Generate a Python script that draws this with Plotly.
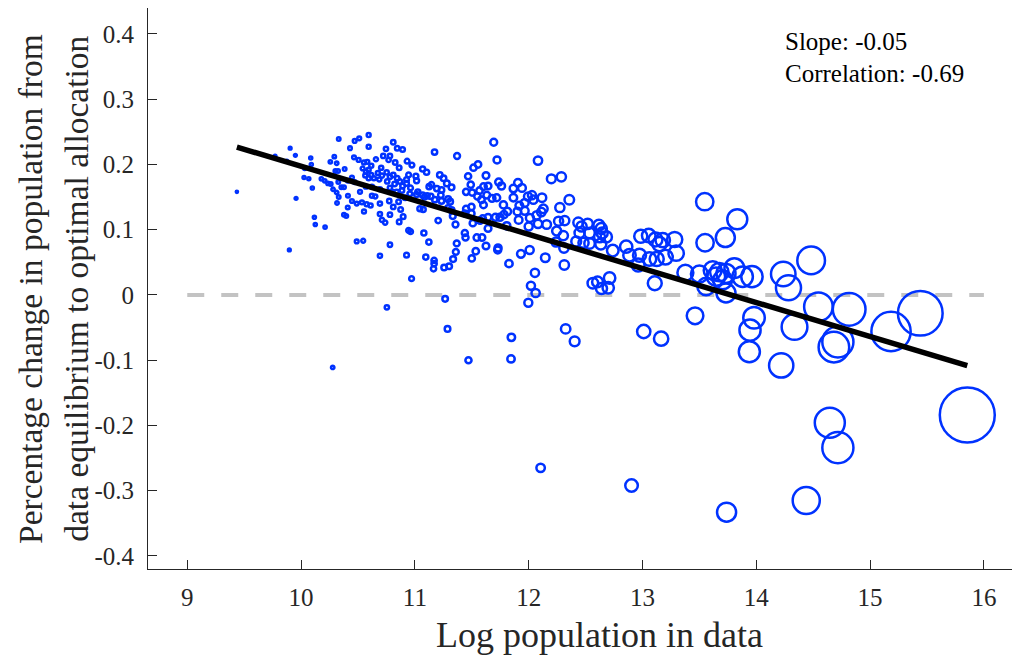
import numpy as np
import plotly.graph_objects as go

# ---------------- data ----------------
log_pop = [
    # x < 10.42
    9.436, 9.772, 9.875, 9.904, 9.950, 9.956, 9.897, 10.032, 10.026, 10.068,
    10.085, 10.090, 10.099, 10.117, 10.125, 10.211, 10.278, 10.178, 10.208, 10.237,
    10.261, 10.257, 10.292, 10.313, 10.331, 10.281, 10.301, 10.325, 10.327, 10.313,
    10.331, 10.316, 10.354, 10.377, 10.383, 10.412, 10.412, 10.410, 10.377, 10.397,
    # 10.42 - 10.7
    10.471, 10.511, 10.430, 10.594, 10.594, 10.465, 10.506, 10.553, 10.582, 10.658,
    10.617, 10.541, 10.570, 10.594, 10.617, 10.564, 10.594, 10.640, 10.675, 10.687,
    10.447, 10.471, 10.570, 10.623, 10.693, 10.518, 10.623, 10.652, 10.447, 10.489,
    10.535, 10.576, 10.611, 10.553, 10.693, 10.693, 10.711, 10.739, 10.489, 10.546,
    10.693,
    # 10.7 - 11.13
    10.746, 10.810, 10.845, 10.892, 10.722, 10.781, 10.769, 10.827, 10.862, 10.932,
    10.974, 10.704, 10.752, 10.711, 10.781, 10.810, 10.845, 10.757, 10.822, 10.868,
    10.892, 10.927, 10.945, 10.927, 10.962, 11.009, 11.015, 11.068, 11.103, 10.781,
    10.798, 10.839, 10.886, 10.915, 10.956, 11.015, 11.026, 11.068, 11.085, 11.108,
    11.125, 10.775, 10.810, 10.781, 10.857, 10.875, 10.897, 11.044, 11.073, 10.862,
    10.945, 10.962, 11.079, 10.781,
    # lower band 10.9 - 12.6
    10.927, 11.096, 11.169, 11.169, 11.164, 11.257, 11.301, 11.336, 11.360, 11.500,
    11.535, 11.728, 11.827, 11.932, 12.009, 12.146, 12.313, 12.055, 12.020, 12.061,
    11.997, 10.971, 11.266, 10.754, 11.287, 11.848, 11.845, 11.471, 12.325, 12.404,
    12.564, 12.605, 12.105,
    # 11.1 - 12.4
    11.693, 11.173, 11.371, 11.722, 12.082, 12.199, 12.287, 12.357, 11.219, 11.252,
    11.281, 11.322, 11.146, 11.193, 11.234, 11.140, 11.175, 11.228, 11.234, 11.292,
    11.310, 11.292, 11.322, 11.468, 11.515, 11.555, 11.625, 11.491, 11.450, 11.503,
    11.568, 11.603, 11.643, 11.550, 11.585, 11.632, 11.678, 11.719, 11.737, 11.761,
    11.603, 11.450, 11.439, 11.497, 11.497, 11.778, 11.813, 11.783, 11.748, 11.708,
    11.643, 11.596, 11.573, 11.866, 11.906, 11.941, 11.866, 11.901, 11.918, 11.965,
    11.994, 12.029, 12.041, 11.965, 12.011, 12.070, 12.111, 12.129, 12.117, 11.912,
    12.000, 12.082, 12.158, 11.807, 11.643, 11.509, 11.357, 11.333, 11.205, 11.439,
    11.445, 11.544, 11.590, 11.625, 11.731, 11.368, 11.123, 12.274, 12.263, 12.316,
    12.246, 12.304, 12.240, 12.310,
    # 12.4 - 13.3
    12.436, 12.465, 12.518, 12.447, 12.535, 12.617, 12.638, 12.646, 12.682, 12.623,
    12.418, 12.482, 12.535, 12.634, 12.739, 12.857, 12.886, 12.974, 12.962, 12.985,
    13.055, 13.114, 13.149, 13.178, 13.283, 13.296, 13.061, 13.125, 13.202, 12.711,
    12.699, 12.640, 13.108,
    # large cities
    13.547, 13.833, 13.728, 13.550, 13.377, 13.500, 13.617, 13.675, 13.734, 13.646,
    13.704, 13.807, 13.880, 13.962, 13.559, 13.734,
    14.482, 14.237, 14.283, 14.546, 14.816, 15.441, 15.184, 14.336, 14.717, 14.682,
    13.980, 13.945, 13.939, 14.219, 13.462, 13.011, 13.164, 15.854, 14.646, 14.717,
    12.904, 13.739, 14.439,
]

pct_change = [
    0.158, 0.213, 0.205, 0.225, 0.214, 0.148, 0.069, 0.194, 0.180, 0.178,
    0.210, 0.200, 0.164, 0.119, 0.108, 0.104, -0.111, 0.178, 0.175, 0.171,
    0.170, 0.204, 0.212, 0.202, 0.239, 0.162, 0.190, 0.190, 0.173, 0.157,
    0.150, 0.141, 0.165, 0.165, 0.193, 0.175, 0.152, 0.134, 0.123, 0.121,
    0.236, 0.240, 0.225, 0.245, 0.227, 0.211, 0.207, 0.203, 0.204, 0.208,
    0.198, 0.194, 0.189, 0.192, 0.184, 0.183, 0.179, 0.179, 0.187, 0.177,
    0.180, 0.173, 0.166, 0.166, 0.162, 0.158, 0.152, 0.151, 0.144, 0.140,
    0.142, 0.139, 0.137, 0.128, 0.140, 0.124, 0.115, 0.111, 0.082, 0.083,
    0.060,
    0.224, 0.234, 0.225, 0.223, 0.213, 0.213, 0.207, 0.203, 0.195, 0.205,
    0.199, 0.195, 0.188, 0.183, 0.181, 0.184, 0.179, 0.174, 0.170, 0.174,
    0.167, 0.177, 0.184, 0.171, 0.164, 0.182, 0.175, 0.193, 0.188, 0.164,
    0.158, 0.158, 0.160, 0.149, 0.155, 0.154, 0.158, 0.153, 0.150, 0.152,
    0.166, 0.144, 0.135, 0.123, 0.143, 0.131, 0.120, 0.132, 0.131, 0.112,
    0.099, 0.097, 0.095, 0.077,
    0.061, 0.058, 0.053, 0.048, 0.040, 0.042, 0.044, 0.055, 0.066, 0.056,
    0.067, 0.069, 0.048, 0.063, 0.069, 0.057, 0.046, 0.034, 0.014, 0.003,
    -0.012, 0.025, -0.006, -0.019, -0.052, -0.065, -0.098, -0.100, -0.052, -0.071,
    0.018, 0.020, -0.265,
    0.234, 0.219, 0.213, 0.207, 0.206, 0.178, 0.181, 0.146, 0.184, 0.179,
    0.171, 0.165, 0.169, 0.163, 0.161, 0.151, 0.146, 0.153, 0.144, 0.147,
    0.143, 0.133, 0.130, 0.182, 0.195, 0.200, 0.183, 0.169, 0.158, 0.157,
    0.160, 0.166, 0.167, 0.151, 0.146, 0.153, 0.148, 0.149, 0.173, 0.167,
    0.138, 0.132, 0.125, 0.135, 0.125, 0.138, 0.128, 0.123, 0.119, 0.119,
    0.119, 0.117, 0.114, 0.163, 0.172, 0.164, 0.149, 0.128, 0.137, 0.141,
    0.151, 0.153, 0.146, 0.129, 0.118, 0.122, 0.127, 0.132, 0.149, 0.115,
    0.105, 0.109, 0.108, 0.106, 0.102, 0.110, 0.108, 0.121, 0.114, 0.095,
    0.088, 0.088, 0.088, 0.075, 0.072, 0.079, 0.081, 0.134, 0.113, 0.114,
    0.098, 0.091, 0.081, 0.072,
    0.111, 0.105, 0.109, 0.095, 0.095, 0.107, 0.102, 0.095, 0.089, 0.089,
    0.082, 0.080, 0.079, 0.078, 0.068, 0.074, 0.061, 0.061, 0.046, 0.090,
    0.091, 0.085, 0.078, 0.084, 0.085, 0.064, 0.055, 0.055, 0.058, 0.026,
    0.011, 0.010, 0.018,
    0.143, 0.116, 0.088, 0.080, 0.034, 0.032, 0.038, 0.035, 0.033, 0.028,
    0.023, 0.041, 0.028, 0.028, 0.013, 0.003,
    0.053, 0.032, 0.011, -0.018, -0.022, -0.028, -0.056, -0.049, -0.072, -0.080,
    -0.035, -0.054, -0.087, -0.108, -0.032, -0.056, -0.067, -0.184, -0.196, -0.234,
    -0.292, -0.333, -0.315,
]

fit_slope = -0.0522
fit_intercept = 0.7192

x_tick_vals = [9, 10, 11, 12, 13, 14, 15, 16]
y_tick_vals = [-0.4, -0.3, -0.2, -0.1, 0, 0.1, 0.2, 0.3, 0.4]
y_tick_text = ["-0.4", "-0.3", "-0.2", "-0.1", "0", "0.1", "0.2", "0.3", "0.4"]
zero_line_x = [9, 16]
zero_line_y = [0, 0]
stats_text = ["Slope: -0.05", "Correlation: -0.69"]
x_title = "Log population in data"
y_title_lines = ["Percentage change in population from",
                 "data equilibrium to optimal allocation"]

# ---------------- figure ----------------
x = np.array(log_pop)
y = np.array(pct_change)
# circle diameter proportional to sqrt(population) (area ~ population)
sizes = 8.0 * np.exp((x - 12.0) / 2.0)

FONT = "Liberation Serif, Times New Roman, serif"
AX = "#262626"
BLUE = "rgb(0,50,255)"

fig = go.Figure()

fig.add_trace(go.Scatter(
    x=zero_line_x, y=zero_line_y, mode="lines",
    line=dict(color="#c3c3c3", width=4, dash="17px,17px"),
    hoverinfo="skip", showlegend=False))

fig.add_trace(go.Scatter(
    x=x, y=y, mode="markers",
    marker=dict(symbol="circle-open", size=sizes, color=BLUE, opacity=1,
                line=dict(width=2.5, color=BLUE)),
    showlegend=False))

xl = np.array([x.min(), x.max()])
fig.add_trace(go.Scatter(
    x=xl, y=fit_intercept + fit_slope * xl, mode="lines",
    line=dict(color="black", width=5.5), showlegend=False))

fig.update_layout(
    width=1014, height=658,
    margin=dict(l=148, r=2, t=8, b=89),
    paper_bgcolor="white", plot_bgcolor="white",
    font=dict(family=FONT, size=25, color=AX),
    showlegend=False,
)

fig.update_xaxes(
    range=[8.655, 16.247], tickvals=x_tick_vals,
    ticks="inside", ticklen=9, tickwidth=1, tickcolor=AX,
    showline=True, linecolor=AX, linewidth=1, mirror=False,
    showgrid=False, zeroline=False, ticklabelstandoff=6,
    tickfont=dict(family=FONT, size=25, color=AX),
)
fig.update_yaxes(
    range=[-0.420, 0.4398], tickvals=y_tick_vals, ticktext=y_tick_text,
    ticks="inside", ticklen=9, tickwidth=1, tickcolor=AX,
    showline=True, linecolor=AX, linewidth=1, mirror=False,
    showgrid=False, zeroline=False, ticklabelstandoff=8,
    tickfont=dict(family=FONT, size=25, color=AX),
)

# statistics text
fig.add_annotation(text=stats_text[0], xref="paper", yref="paper",
                   x=0.735, y=0.941, xanchor="left", yanchor="middle",
                   showarrow=False, font=dict(family=FONT, size=25, color="black"))
fig.add_annotation(text=stats_text[1], xref="paper", yref="paper",
                   x=0.735, y=0.884, xanchor="left", yanchor="middle",
                   showarrow=False, font=dict(family=FONT, size=25, color="black"))

# axis titles
fig.add_annotation(text=x_title, xref="paper", yref="paper",
                   x=0.522, y=-0.118, xanchor="center", yanchor="middle",
                   showarrow=False, font=dict(family=FONT, size=36, color=AX))
fig.add_annotation(text=y_title_lines[0], xref="paper", yref="paper",
                   x=-0.136, y=0.5, xanchor="center", yanchor="middle",
                   textangle=-90, showarrow=False,
                   font=dict(family=FONT, size=33.5, color=AX))
fig.add_annotation(text=y_title_lines[1], xref="paper", yref="paper",
                   x=-0.083, y=0.5, xanchor="center", yanchor="middle",
                   textangle=-90, showarrow=False,
                   font=dict(family=FONT, size=33.5, color=AX))

fig.write_html("out.html", config={"displayModeBar": False},
               post_script="document.body.style.margin='0';document.body.style.overflow='hidden';")
